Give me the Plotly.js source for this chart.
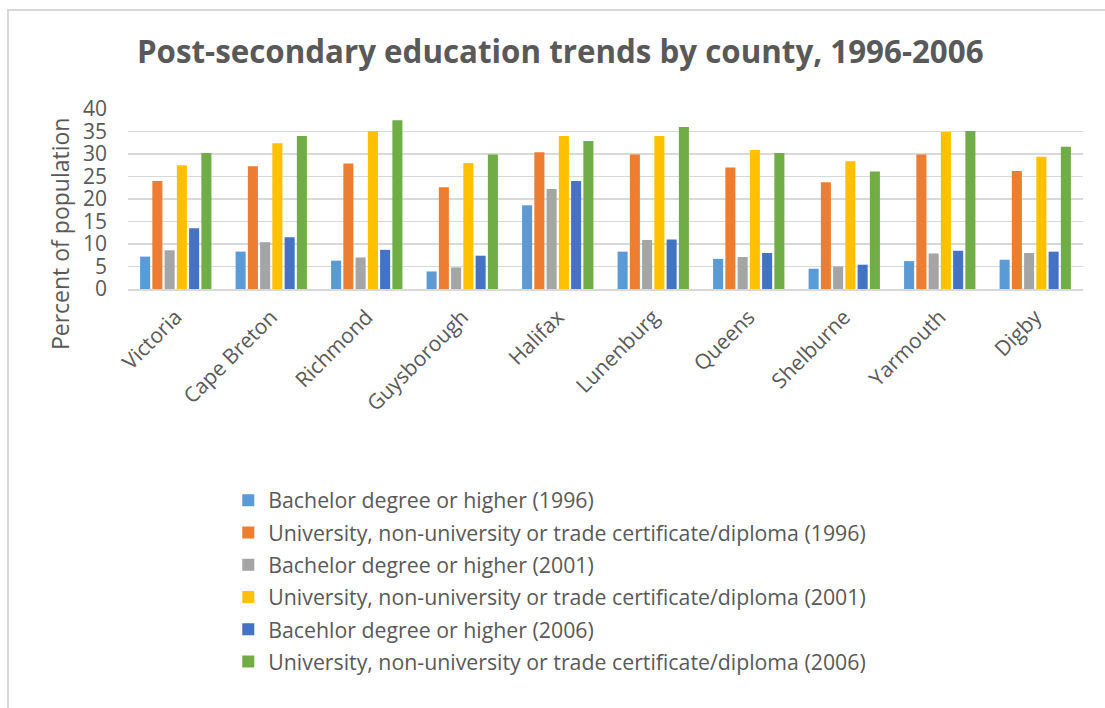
<!DOCTYPE html>
<html>
<head>
<meta charset="utf-8">
<script src="https://cdn.plot.ly/plotly-3.0.1.min.js"></script>
<style>
html,body{margin:0;padding:0;background:#fff;overflow:hidden;width:1105px;height:708px;}
#chart{width:1105px;height:708px;position:absolute;left:0;top:0;}
#frame{position:absolute;left:7px;top:9px;width:1200px;height:800px;border:2px solid #d9d9d9;pointer-events:none;}
</style>
</head>
<body>
<div id="chart"></div>
<div id="frame"></div>
<script>
const counties = ["Victoria","Cape Breton","Richmond","Guysborough","Halifax","Lunenburg","Queens","Shelburne","Yarmouth","Digby"];
const seriesNames = [
  "Bachelor degree or higher (1996)",
  "University, non-university or trade certificate/diploma (1996)",
  "Bachelor degree or higher (2001)",
  "University, non-university or trade certificate/diploma (2001)",
  "Bacehlor degree or higher (2006)",
  "University, non-university or trade certificate/diploma (2006)"
];
const yAxisTitle = "Percent of population";
const bachelor1996 = [7.2, 8.3, 6.3, 3.9, 18.6, 8.3, 6.7, 4.5, 6.2, 6.5];
const certificate1996 = [24.0, 27.3, 27.9, 22.6, 30.4, 29.9, 27.0, 23.7, 29.9, 26.2];
const bachelor2001 = [8.6, 10.4, 7.0, 4.8, 22.2, 10.9, 7.1, 5.0, 7.9, 8.0];
const certificate2001 = [27.5, 32.4, 35.1, 28.0, 34.0, 34.0, 30.9, 28.4, 34.9, 29.4];
const bachelor2006 = [13.5, 11.5, 8.7, 7.4, 24.0, 11.0, 8.0, 5.4, 8.5, 8.3];
const certificate2006 = [30.2, 34.0, 37.5, 29.9, 32.9, 36.0, 30.2, 26.1, 35.1, 31.6];
const seriesValues = [bachelor1996, certificate1996, bachelor2001, certificate2001, bachelor2006, certificate2006];
const colors = ["#5B9BD5","#ED7D31","#A5A5A5","#FFC000","#4472C4","#70AD47"];

const textColor = "#595959";
const traces = seriesValues.map((vals, i) => ({
  type: "bar",
  name: seriesNames[i],
  legendgroup: "g" + i,
  x: counties,
  y: vals,
  marker: {color: colors[i], line: {width: 0}},
  hoverinfo: "x+y+name"
}));

const layout = {
  width: 1105,
  height: 708,
  paper_bgcolor: "#fff",
  plot_bgcolor: "#fff",
  margin: {l: 128, r: 22, t: 109, b: 419},
  barmode: "group",
  bargap: 0.23,
  bargroupgap: 0.18,
  title: {
    text: "<b>Post-secondary education trends by county, 1996-2006</b>",
    font: {family: "Open Sans", size: 31.3, color: textColor},
    x: 0.507, xanchor: "center",
    y: 0.926, yanchor: "middle"
  },
  font: {family: "Open Sans", color: textColor},
  xaxis: {
    type: "category",
    tickangle: -45,
    tickfont: {family: "Open Sans", size: 21, color: textColor},
    ticklabelstandoff: 6,
    showgrid: false,
    showline: true,
    linecolor: "#d9d9d9",
    linewidth: 1.5,
    ticks: "",
    fixedrange: true
  },
  yaxis: {
    range: [0, 40],
    dtick: 5,
    tickfont: {family: "Open Sans", size: 21, color: textColor},
    ticklabelstandoff: 20,
    gridcolor: "#d9d9d9",
    gridwidth: 1.5,
    zeroline: false,
    showline: false,
    ticks: "",
    ticklen: 0,
    fixedrange: true
  },
  annotations: [{
    text: yAxisTitle,
    xref: "paper", yref: "paper",
    x: -0.0712, y: 0.305,
    xanchor: "center", yanchor: "middle",
    textangle: -90,
    showarrow: false,
    font: {family: "Open Sans", size: 23, color: textColor}
  }],
  showlegend: true,
  legend: {
    orientation: "v",
    x: 0.105, xanchor: "left",
    y: -1.06, yanchor: "top",
    font: {family: "Open Sans", size: 21.3, color: textColor},
    bgcolor: "rgba(0,0,0,0)",
    itemwidth: 30,
    traceorder: "grouped",
    tracegroupgap: 1.6
  }
};

Plotly.newPlot("chart", traces, layout, {displayModeBar: false, staticPlot: true});
</script>
</body>
</html>
